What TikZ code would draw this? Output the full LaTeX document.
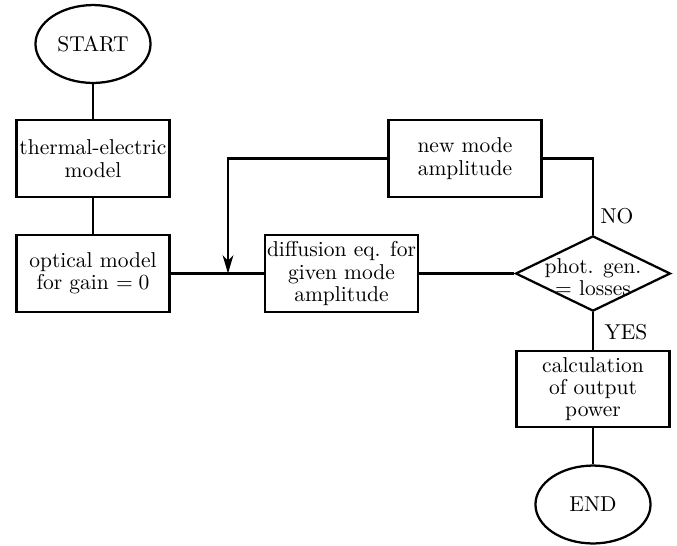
\documentclass[tikz,border=0pt]{standalone}
\usetikzlibrary{shapes.geometric,arrows.meta}
\begin{document}
\begin{tikzpicture}[x=0.465pt,y=-0.465pt,
  every node/.style={font=\fontsize{10}{10.4}\selectfont},
  flow/.style={line width=1.05pt},
  procbox/.style={draw,line width=1.05pt,rectangle,align=center,inner sep=1pt,minimum width=71.2pt,minimum height=35.6pt},
  term/.style={draw,line width=1.05pt,ellipse,inner sep=0pt,minimum width=53.5pt,minimum height=36.2pt},
  decision/.style={draw,line width=1.05pt,diamond,inner sep=0pt,minimum width=72pt,minimum height=35pt},
  lbl/.style={inner sep=0pt}]
\useasboundingbox (0,0) rectangle (677,545);
\node[term] (start) at (93,44) {START};
\node[procbox] (therm) at (93,158.5) {thermal-electric\\model};
\node[procbox] (opt) at (93,273.5) {optical model\\for gain $=0$};
\node[procbox] (diff) at (341.5,273.5) {diffusion eq. for\\given mode\\amplitude};
\node[procbox] (new) at (465,158.5) {new mode\\amplitude};
\node[decision] (dec) at (593,273.5) {};
\node[align=center,inner sep=0pt] (dectext) at (593,277) {phot. gen.\\$=$ losses};
\node[procbox] (calc) at (593,389) {calculation\\of output\\power};
\node[term] (end) at (593,504.5) {END};
\node[lbl] (no) at (617,216) {NO};
\node[lbl] (yes) at (626,332) {YES};
\coordinate (j) at (228,273.5);
\draw[flow] (start) -- (therm);
\draw[flow] (therm) -- (opt);
\draw[flow] (opt) -- (diff);
\draw[flow] (diff) -- (dec.west);
\draw[flow,-{Stealth[length=8.5pt,width=5pt,inset=2.5pt]}] (new.west) -| (j);
\draw[flow] (new.east) -| (dec.north);
\draw[flow] (dec.south) -- (calc.north);
\draw[flow] (calc) -- (end);
\end{tikzpicture}
\end{document}
